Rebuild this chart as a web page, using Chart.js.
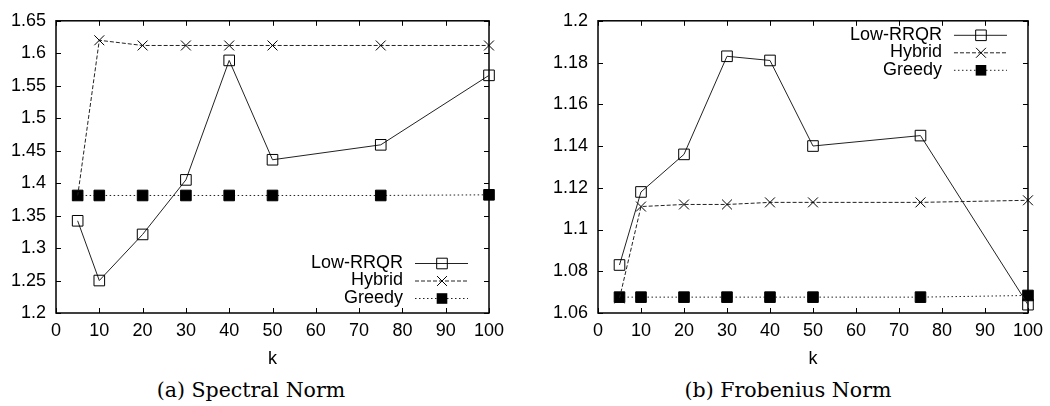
<!DOCTYPE html>
<html>
<head>
<meta charset="utf-8">
<script src="https://cdn.jsdelivr.net/npm/chart.js@4/dist/chart.umd.min.js"></script>
<style>
  body { margin: 0; background: #fff; }
  #page { position: relative; width: 1050px; height: 406px; overflow: hidden; }
  .panel { position: absolute; top: 0; width: 525px; height: 370px; }
  .caption {
    position: absolute; top: 378px; width: 400px; text-align: center;
    font-family: "DejaVu Serif", serif; font-size: 20.5px; color: #000;
  }
</style>
</head>
<body>
<div id="page">
  <div class="panel" style="left:0"><canvas id="spectral" width="525" height="370"></canvas></div>
  <div class="panel" style="left:525px"><canvas id="frobenius" width="525" height="370"></canvas></div>
  <div class="caption" style="left:51px">(a) Spectral Norm</div>
  <div class="caption" style="left:588px">(b) Frobenius Norm</div>
</div>
<script>
'use strict';

// values
const kValues = [5, 10, 20, 30, 40, 50, 75, 100];
const seriesNames = ['Low-RRQR', 'Hybrid', 'Greedy'];

const spectralLowRRQR = [1.342, 1.25, 1.321, 1.405, 1.589, 1.436, 1.459, 1.566];
const spectralHybrid = [1.38, 1.62, 1.612, 1.612, 1.612, 1.612, 1.612, 1.612];
const spectralGreedy = [1.381, 1.381, 1.381, 1.381, 1.381, 1.381, 1.381, 1.382];

const frobLowRRQR = [1.083, 1.118, 1.136, 1.183, 1.181, 1.140, 1.145, 1.064];
const frobHybrid = [1.067, 1.111, 1.112, 1.112, 1.113, 1.113, 1.113, 1.114];
const frobGreedy = [1.0676, 1.0676, 1.0676, 1.0676, 1.0676, 1.0676, 1.0676, 1.0684];

// axis ranges: [min, max, step]
const kAxis = [0, 100, 10];
const spectralAxis = [1.2, 1.65, 0.05];
const frobAxis = [1.06, 1.2, 0.02];

const FONT = '"Liberation Sans", Arial, sans-serif';
const FONT_SIZE = 18;

// gnuplot style box with inward ticks on all four sides
const frameBox = {
  id: 'frameBox',
  beforeDatasetsDraw(chart) {
    const ctx = chart.ctx;
    const a = chart.chartArea;
    const x = chart.scales.x;
    const y = chart.scales.y;
    ctx.save();
    ctx.strokeStyle = '#000';
    ctx.lineWidth = 1;
    ctx.beginPath();
    x.ticks.forEach(t => {
      const px = Math.round(x.getPixelForValue(t.value)) + 0.5;
      ctx.moveTo(px, a.bottom); ctx.lineTo(px, a.bottom - 5);
      ctx.moveTo(px, a.top); ctx.lineTo(px, a.top + 5);
    });
    y.ticks.forEach(t => {
      const py = Math.round(y.getPixelForValue(t.value)) + 0.5;
      ctx.moveTo(a.left, py); ctx.lineTo(a.left + 5, py);
      ctx.moveTo(a.right, py); ctx.lineTo(a.right - 5, py);
    });
    ctx.stroke();
    ctx.lineWidth = 1.5;
    ctx.strokeRect(a.left, a.top, a.right - a.left, a.bottom - a.top);
    ctx.restore();
  }
};

function drawMarker(ctx, style, r, cx, cy) {
  ctx.beginPath();
  const s = r * Math.SQRT1_2;
  if (style === 'crossRot') {
    ctx.moveTo(cx - s, cy - s); ctx.lineTo(cx + s, cy + s);
    ctx.moveTo(cx - s, cy + s); ctx.lineTo(cx + s, cy - s);
    ctx.stroke();
  } else {
    ctx.rect(cx - s, cy - s, 2 * s, 2 * s);
    if (style === 'filled') ctx.fill(); else ctx.stroke();
  }
}

// legend: text right aligned, then a line sample with the marker on it
const keyBox = {
  id: 'keyBox',
  afterDatasetsDraw(chart, args, opts) {
    const ctx = chart.ctx;
    const a = chart.chartArea;
    ctx.save();
    ctx.font = FONT_SIZE + 'px ' + FONT;
    ctx.textAlign = 'right';
    ctx.textBaseline = 'middle';
    chart.data.datasets.forEach((ds, i) => {
      const rowY = opts.atTop ? a.top + 14 + i * 17.5 : a.bottom - 50 + i * 17.5;
      ctx.fillStyle = '#000';
      ctx.fillText(ds.label, a.right - 86, rowY);
      ctx.strokeStyle = ds.borderColor;
      ctx.lineWidth = 1;
      ctx.setLineDash(ds.borderDash || []);
      ctx.beginPath();
      ctx.moveTo(a.right - 74, rowY + 0.5);
      ctx.lineTo(a.right - 21, rowY + 0.5);
      ctx.stroke();
      ctx.setLineDash([]);
      ctx.strokeStyle = '#000';
      ctx.fillStyle = '#000';
      drawMarker(ctx, ds.markerKind, ds.pointRadius, a.right - 47, rowY + 0.5);
    });
    ctx.restore();
  }
};

function makeSeries(low, hybrid, greedy) {
  const pts = vals => kValues.map((k, i) => ({ x: k, y: vals[i] }));
  return [{
    label: seriesNames[0], data: pts(low), markerKind: 'rect',
    borderColor: '#222', borderWidth: 1, pointStyle: 'rect', pointRadius: 7.5,
    pointBorderColor: '#000', pointBackgroundColor: 'rgba(0,0,0,0)', pointBorderWidth: 1
  }, {
    label: seriesNames[1], data: pts(hybrid), markerKind: 'crossRot', borderDash: [4, 2],
    borderColor: '#222', borderWidth: 1, pointStyle: 'crossRot', pointRadius: 7,
    pointBorderColor: '#000', pointBorderWidth: 1
  }, {
    label: seriesNames[2], data: pts(greedy), markerKind: 'filled', borderDash: [1.5, 2.5],
    borderColor: '#222', borderWidth: 1, pointStyle: 'rect', pointRadius: 7.5,
    pointBorderColor: '#000', pointBackgroundColor: '#000', pointBorderWidth: 1
  }];
}

function makeChart(canvasId, datasets, yAxis, yWidth, rightPad, keyAtTop) {
  datasets.forEach(d => { d.clip = false; d.tension = 0; d.fill = false; });
  return new Chart(document.getElementById(canvasId), {
    type: 'line',
    data: { datasets: datasets },
    plugins: [frameBox, keyBox],
    options: {
      responsive: false,
      animation: false,
      devicePixelRatio: 1,
      layout: { padding: { left: 0, right: rightPad, top: 14, bottom: 0 } },
      plugins: {
        legend: { display: false },
        tooltip: { enabled: false },
        keyBox: { atTop: keyAtTop }
      },
      scales: {
        x: {
          type: 'linear', min: kAxis[0], max: kAxis[1],
          grid: { display: false, drawTicks: false },
          border: { display: false },
          ticks: { stepSize: kAxis[2], padding: 7, color: '#000', font: { family: FONT, size: FONT_SIZE } },
          title: { display: true, text: 'k', color: '#000', padding: { top: 0, bottom: 0 }, font: { family: FONT, size: FONT_SIZE } },
          afterFit: s => { s.height = 57; }
        },
        y: {
          type: 'linear', min: yAxis[0], max: yAxis[1],
          grid: { display: false, drawTicks: false },
          border: { display: false },
          ticks: {
            stepSize: yAxis[2], padding: 10, color: '#000', font: { family: FONT, size: FONT_SIZE },
            callback: v => String(+v.toFixed(2))
          },
          afterFit: s => { s.width = yWidth; }
        }
      }
    }
  });
}

makeChart('spectral', makeSeries(spectralLowRRQR, spectralHybrid, spectralGreedy), spectralAxis, 56, 36, false);
makeChart('frobenius', makeSeries(frobLowRRQR, frobHybrid, frobGreedy), frobAxis, 73, 18, true);
</script>
</body>
</html>
